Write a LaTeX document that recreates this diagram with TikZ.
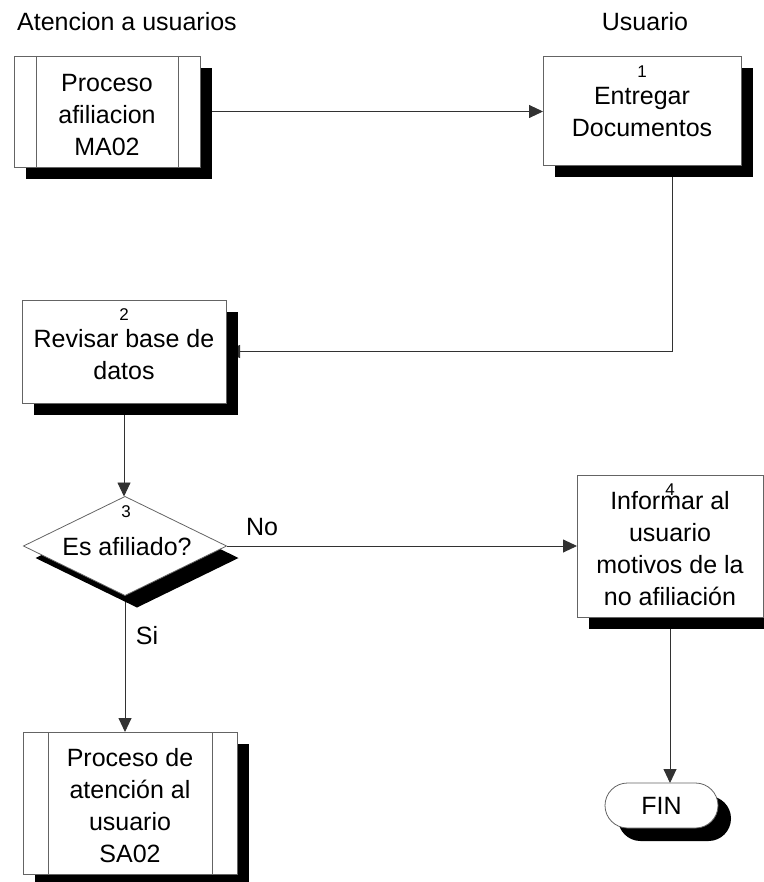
\documentclass[tikz,border=0pt]{standalone}
\usepackage{fontspec}
\setmainfont{Liberation Sans}
\usetikzlibrary{arrows.meta,shapes.geometric,shapes.misc,shadows,backgrounds}
\definecolor{edgegray}{RGB}{100,100,100}
\definecolor{wiregray}{RGB}{50,50,50}
\begin{document}
\begin{tikzpicture}[x=1pt,y=-1pt,
  every node/.style={inner sep=0pt, outer sep=0pt},
  sh/.style={drop shadow={shadow xshift=#1, shadow yshift=-#1, opacity=1, fill=black, draw=none}},
  box/.style={draw=edgegray, line width=0.8pt, fill=white, sh=12pt},
  subproc/.style={box, path picture={
      \draw[edgegray, line width=0.8pt]
        ([xshift=#1]path picture bounding box.north west) -- ([xshift=#1]path picture bounding box.south west)
        ([xshift=-#1]path picture bounding box.north east) -- ([xshift=-#1]path picture bounding box.south east);}},
  decision/.style={diamond, draw=edgegray, line width=0.8pt, fill=white, sh=12pt},
  term/.style={rounded rectangle, draw=edgegray, line width=0.8pt, fill=white, sh=13pt},
  txt/.style={font=\fontsize{25}{32}\selectfont, align=center},
  num/.style={font=\fontsize{17}{20}\selectfont},
  arr/.style={draw=wiregray, line width=0.9pt, -{Triangle[length=14pt,width=13pt]}}
]
\useasboundingbox (0,0) rectangle (763,882);

% lane headings
\node[txt] (h1) at (127,22) {Atencion a usuarios};
\node[txt] (h2) at (645,22) {Usuario};

% entry sub-process
\node[subproc=22pt, minimum width=186pt, minimum height=111pt] (p1) at (107,111.5) {};
\node[txt] (p1t) at (107,115) {Proceso\\afiliacion\\MA02};

% step 1
\node[box, minimum width=198pt, minimum height=109pt] (e1) at (642,110.5) {};
\node[num] (e1n) at (642,72) {1};
\node[txt] (e1t) at (642,112.5) {Entregar\\Documentos};

% step 2
\node[box, minimum width=204pt, minimum height=103pt] (r2) at (124,351.5) {};
\node[num] (r2n) at (124,315) {2};
\node[txt] (r2t) at (124,355) {Revisar base de\\datos};

% step 3: decision
\node[decision, minimum width=203pt, minimum height=99pt] (d3) at (125,546) {};
\node[num] (d3n) at (126,512) {3};
\node[txt] (d3t) at (127,547) {Es afiliado?};

% step 4
\node[box, minimum width=186pt, minimum height=142pt] (i4) at (670,546) {};
\node[num] (i4n) at (670,490) {4};
\node[txt] (i4t) at (670,549) {Informar al\\usuario\\motivos de la\\no afiliación};

% exit sub-process
\node[subproc=25pt, minimum width=214pt, minimum height=142pt] (s5) at (130,803) {};
\node[txt] (s5t) at (130,806) {Proceso de\\atención al\\usuario\\SA02};

% end
\node[term, minimum width=113pt, minimum height=45pt] (fin) at (661.5,805.5) {};
\node[txt] (fint) at (661.5,806) {FIN};

% branch labels
\node[txt] (no) at (262,527) {No};
\node[txt] (si) at (147,636) {Si};

% connectors, kept behind the shapes and their shadows
\begin{scope}[on background layer]
  \draw[arr] (p1.east) -- (p1.east -| e1.west);
  \draw[arr] ([xshift=30pt]e1.south) |- (r2.east);
  \draw[arr] (r2.south) -- (r2.south |- d3.north);
  \draw[arr] (d3.east) -- (d3.east -| i4.west);
  \draw[arr] (d3.south) -- (d3.south |- s5.north);
  \draw[arr] (i4.south) -- (i4.south |- fin.north);
\end{scope}
\end{tikzpicture}
\end{document}
